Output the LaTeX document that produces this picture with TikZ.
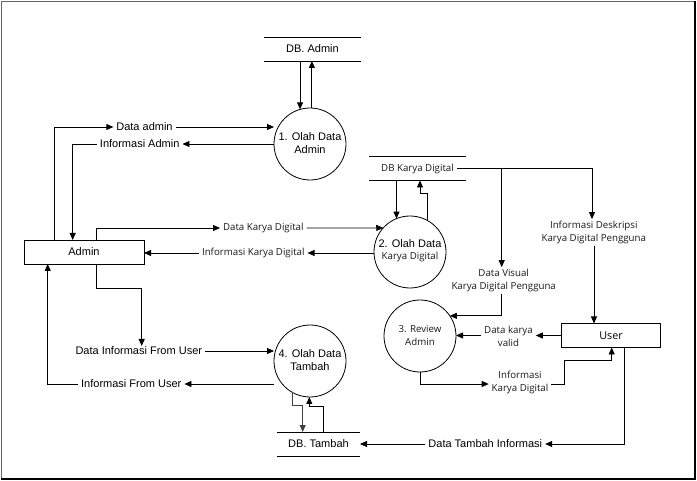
\documentclass[tikz,border=0pt]{standalone}
\usepackage{fontspec}
\setmainfont{Liberation Sans}
\newfontfamily\opensans{Open Sans}
\newcommand\arialtext{\fontsize{11}{13}\selectfont\color{black}}
\newcommand\opentext{\opensans\fontsize{9.7}{13}\selectfont\color{black!90}}
\usetikzlibrary{arrows.meta,calc}
\begin{document}
\begin{tikzpicture}[x=1pt,y=-1pt,
  every node/.style={inner sep=0pt,outer sep=0pt},
  arial/.style={font=\arialtext},
  opn/.style={font=\opentext},
  lbl/.style={inner xsep=3pt,inner ysep=1pt,align=center},
  proc/.style={draw,circle,minimum size=72pt,line width=0.8pt},
  ent/.style={draw,minimum height=24pt,align=center,line width=0.8pt},
  store/.style={minimum height=24pt,align=center},
  flow/.style={-{Triangle[length=7pt,width=6pt]},line width=0.8pt},
  line/.style={line width=0.8pt},
]
\useasboundingbox (0,0) rectangle (697,481);
% frame
\draw[black!60,line width=1pt] (1.5,1.5) rectangle (694.5,478.5);
\draw[black,line width=1.6pt] (1,479) -- (695,479) -- (695,1);

% entities
\node[ent,arial,minimum width=120pt] (admin) at (84,252) {Admin};
\node[ent,font=\opensans\fontsize{10.8}{13}\selectfont,minimum width=99pt] (user) at (611,335.5) {User};

% processes
\node[proc] (p1) at (310,144) {};
\node[arial,align=center] at (310,143.5) {1. Olah Data\\Admin};
\node[proc] (p2) at (410,252) {};
\node[align=center] at (410,251) {{\arialtext 2. Olah Data}\\{\opentext Karya Digital}};
\node[proc] (p3) at (420,336) {};
\node[opn,align=center] at (420,335.5) {3. Review\\Admin};
\node[proc] (p4) at (310,361) {};
\node[arial,align=center] at (310,360) {4. Olah Data\\Tambah};

% data stores
\node[store,arial,minimum width=97pt] (dbA) at (312.5,49) {DB. Admin};
\node[store,opn,minimum width=97pt] (dbK) at (417.5,168.5) {DB Karya Digital};
\node[store,arial,minimum width=83pt] (dbT) at (318.5,444) {DB. Tambah};
\foreach \s in {dbA,dbK,dbT}{
  \draw[line] (\s.north west) -- (\s.north east);
  \draw[line] (\s.south west) -- (\s.south east);
}

% flow labels
\node[lbl,arial] (lDA) at (144.5,127) {Data admin};
\node[lbl,arial] (lIA) at (139.7,144) {Informasi Admin};
\node[lbl,opn] (lDK) at (263.3,228) {Data Karya Digital};
\node[lbl,opn] (lIK) at (253.3,253) {Informasi Karya Digital};
\node[lbl,arial] (lDU) at (138.8,351) {Data Informasi From User};
\node[lbl,arial] (lIU) at (131.3,384) {Informasi From User};
\node[lbl,arial] (lDT) at (485.3,444) {Data Tambah Informasi};
\node[lbl,opn] (lIK3) at (520,382.5) {Informasi\\Karya Digital};
\node[lbl,opn] (lDV) at (508.5,336) {Data karya\\valid};
\node[lbl,opn,inner ysep=2pt] (lVis) at (503.7,280.5) {Data Visual\\Karya Digital Pengguna};
\node[lbl,opn,inner ysep=2pt] (lDes) at (593.8,232.5) {Informasi Deskripsi\\Karya Digital Pengguna};

% process 1 <-> admin / store
\draw[flow] (dbA.south -| p1.106) -- (p1.106);
\draw[flow] (p1.87) -- (dbA.south -| p1.87);
\draw[flow] (admin.north -| 54.3,0) |- (lDA.west);
\draw[flow] (lDA.east) -- (p1.west |- lDA);
\draw[flow] (p1.west |- lIA) -- (lIA.east);
\draw[flow] (lIA.west) -| (admin.north -| 72.7,0);

% process 2
\draw[flow] (admin.north -| 96.7,0) |- (lDK.west);
\draw[flow] (lDK.east) -- (p2.138);
\draw[flow] (p2.west |- lIK) -- (lIK.east);
\draw[flow] (lIK.west) -- (admin.east |- lIK);
\draw[flow] (dbK.south -| p2.112) -- (p2.112);
\draw[flow] (p2.62) -- (p2.62 |- 0,193) -- (420,193) -- (dbK.south -| 420,0);

% store karya digital -> user / review
\coordinate (kOut) at ($(dbK.east)+(-9,0)$);
\draw[line] (kOut) -- (592,168.5);
\draw[flow] (592,168.5) -- (lDes.north -| 592,0);
\draw[flow] (lDes.south -| 594,0) -- (user.north -| 594,0);
\draw[flow] (501.7,168.5) -- (lVis.north -| 501.7,0);
\draw[flow] (lVis.south -| 501.7,0) |- (p3.34);

% process 3 <-> user
\draw[flow] (user.west) -- (lDV.east |- user.west);
\draw[flow] (lDV.west |- user.west) -- (p3.east |- user.west);
\draw[flow] (p3.south) |- (lIK3.west |- 0,384);
\draw[flow] (lIK3.east |- 0,384) -- (564,384) |- (611.7,360.7) -- (user.south -| 611.7,0);

% process 4
\draw[flow] (user.south -| 624.3,0) |- (lDT.east);
\draw[flow] (lDT.west) -- (dbT.east);
\draw[flow] (admin.south -| 96.7,0) |- (141.7,288.3) -- (lDU.north -| 141.7,0);
\draw[flow] (lDU.east) -- (p4.west |- lDU);
\draw[flow] (p4.west |- lIU) -- (lIU.east);
\draw[flow] (lIU.west) -| (admin.south -| 47.7,0);
\draw[flow,black!75] (p4.240) |- (302.7,405) -- (dbT.north -| 302.7,0);
\draw[flow] (dbT.north -| 323.3,0) |- (309.3,406.7) -- (p4.south -| 309.3,0);
\end{tikzpicture}
\end{document}
